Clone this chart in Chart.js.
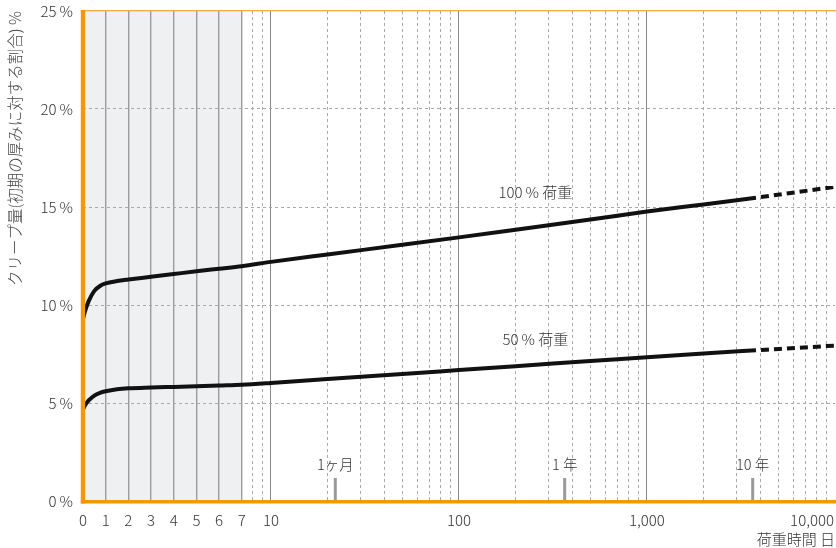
<!DOCTYPE html>
<html lang="ja">
<head>
<meta charset="utf-8">
<title>クリープ量</title>
<script src="https://cdn.jsdelivr.net/npm/chart.js@4.4.1/dist/chart.umd.min.js"></script>
<style>
  html, body { margin: 0; padding: 0; background: #fff; }
  #wrap { width: 836px; height: 548px; }
</style>
</head>
<body>
<div id="wrap"><canvas id="chart" width="836" height="548"></canvas></div>
<script>
// 荷重時間（日）と実測クリープ量（%）
const DAYS      = [0, 0.1, 0.25, 0.5, 0.75, 1, 1.5, 2, 3, 4, 5, 6, 7, 10, 20, 50, 100, 200, 500, 1000, 2000, 3800];
const CREEP_100 = [9.3, 9.72, 10.2, 10.72, 10.97, 11.1, 11.22, 11.3, 11.44, 11.58, 11.72, 11.85, 11.98, 12.2, 12.58, 13.07, 13.45, 13.84, 14.36, 14.77, 15.13, 15.47];
const CREEP_50  = [4.68, 4.9, 5.13, 5.38, 5.52, 5.6, 5.7, 5.75, 5.79, 5.82, 5.85, 5.89, 5.93, 6.02, 6.22, 6.48, 6.68, 6.88, 7.14, 7.34, 7.53, 7.69];

// 長期予測（破線部分）
const PROJ_DAYS = [3800, 10000];
const PROJ_100  = [15.47, 16.03];
const PROJ_50   = [7.69, 7.93];

// 横軸の目盛線と目盛ラベル
const X_GRID_DAYS = [0, 1, 2, 3, 4, 5, 6, 7, 8, 9, 10,
  20, 30, 40, 50, 60, 70, 80, 90, 100,
  200, 300, 400, 500, 600, 700, 800, 900, 1000,
  2000, 3000, 4000, 5000, 6000, 7000, 8000, 9000, 10000];
const X_TICK_DAYS   = [0, 1, 2, 3, 4, 5, 6, 7, 10, 100, 1000, 10000];
const X_TICK_LABELS = ['0', '1', '2', '3', '4', '5', '6', '7', '10', '100', '1,000', '10,000'];
const Y_TICKS       = [0, 5, 10, 15, 20, 25];
const Y_TICK_LABELS = ['0\u2009%', '5\u2009%', '10\u2009%', '15\u2009%', '20\u2009%', '25\u2009%'];

// 期間の目安
const PERIOD_DAYS   = [22, 365, 3650];
const PERIOD_LABELS = ['1ヶ月', '1 年', '10 年'];

const SERIES_LABELS = ['100\u2009% 荷重', '50\u2009% 荷重'];

const FONT = '"Noto Sans CJK JP", "Noto Sans", sans-serif';
const FONT_WEIGHT = 300;
const ORANGE = '#f39800';

// 0〜7日は等間隔、7日以降は対数で目盛る横軸
const LINEAR_DAYS = 7;
const UNITS_PER_DECADE = 8.29;
function dayToUnit(d) {
  return d <= LINEAR_DAYS ? d : LINEAR_DAYS + UNITS_PER_DECADE * Math.log10(d / LINEAR_DAYS);
}
function unitToDay(u) {
  return u <= LINEAR_DAYS ? u : LINEAR_DAYS * Math.pow(10, (u - LINEAR_DAYS) / UNITS_PER_DECADE);
}

class DayScale extends Chart.LinearScale {
  determineDataLimits() {
    this.min = this.options.min;
    this.max = this.options.max;
  }
  buildTicks() {
    return X_GRID_DAYS.map(v => ({ value: v }));
  }
  getPixelForValue(value) {
    return this.getPixelForDecimal(dayToUnit(value) / dayToUnit(this.max));
  }
  getValueForPixel(pixel) {
    return unitToDay(this.getDecimalForPixel(pixel) * dayToUnit(this.max));
  }
}
DayScale.id = 'days';
DayScale.defaults = {};
Chart.register(DayScale);

const toPoints = (xs, ys) => xs.map((x, i) => ({ x: x, y: ys[i] }));
const cssFont = size => FONT_WEIGHT + ' ' + size + 'px ' + FONT;

const decor = {
  id: 'decor',
  beforeDraw(chart) {
    const { ctx, chartArea: a, scales: { x } } = chart;
    ctx.save();
    ctx.fillStyle = '#fff';
    ctx.fillRect(0, 0, chart.width, chart.height);
    ctx.fillStyle = '#eff0f2';
    const x0 = x.getPixelForValue(0), x7 = x.getPixelForValue(LINEAR_DAYS);
    ctx.fillRect(x0, a.top, x7 - x0, a.bottom - a.top);
    ctx.restore();
  },
  afterDraw(chart) {
    const { ctx, chartArea: a, scales: { x, y } } = chart;
    ctx.save();

    // 期間の目安
    ctx.fillStyle = '#9a9a9a';
    PERIOD_DAYS.forEach(d => {
      const px = x.getPixelForValue(d);
      ctx.fillRect(px - 1.5, a.bottom - 23, 3, 23);
    });
    ctx.fillStyle = '#333';
    ctx.font = cssFont(14.5);
    ctx.textAlign = 'center';
    ctx.textBaseline = 'middle';
    PERIOD_DAYS.forEach((d, i) => {
      ctx.fillText(PERIOD_LABELS[i], x.getPixelForValue(d), a.bottom - 37);
    });

    // 系列ラベル
    ctx.font = cssFont(15);
    ctx.fillText(SERIES_LABELS[0], x.getPixelForValue(255), y.getPixelForValue(15.75));
    ctx.fillText(SERIES_LABELS[1], x.getPixelForValue(255), y.getPixelForValue(8.25));

    // 軸線
    ctx.fillStyle = '#f5ad3c';
    ctx.fillRect(a.left, a.top - 1, chart.width - a.left, 1.3);
    ctx.fillStyle = ORANGE;
    ctx.fillRect(a.left - 2.2, a.top - 1, 4.4, a.bottom - a.top + 3.5);
    ctx.fillRect(a.left - 2.2, a.bottom - 1, chart.width - a.left + 2.2, 3.5);

    // 横軸の目盛ラベル
    ctx.fillStyle = '#333';
    ctx.font = cssFont(15);
    ctx.textBaseline = 'middle';
    X_TICK_DAYS.forEach((d, i) => {
      const last = i === X_TICK_DAYS.length - 1;
      ctx.textAlign = last ? 'right' : 'center';
      const px = last ? chart.width - 2 : x.getPixelForValue(d);
      ctx.fillText(X_TICK_LABELS[i], px, a.bottom + 19);
    });
    ctx.restore();
  }
};

const lineStyle = {
  borderColor: '#111',
  borderWidth: 4,
  pointRadius: 0,
  fill: false,
  cubicInterpolationMode: 'monotone',
  borderCapStyle: 'butt'
};

new Chart(document.getElementById('chart'), {
  type: 'line',
  data: {
    datasets: [
      Object.assign({ label: SERIES_LABELS[0], data: toPoints(DAYS, CREEP_100) }, lineStyle),
      Object.assign({ label: SERIES_LABELS[1], data: toPoints(DAYS, CREEP_50) }, lineStyle),
      Object.assign({ label: SERIES_LABELS[0], data: toPoints(PROJ_DAYS, PROJ_100), borderDash: [8, 5], borderDashOffset: 8 }, lineStyle),
      Object.assign({ label: SERIES_LABELS[1], data: toPoints(PROJ_DAYS, PROJ_50), borderDash: [8, 5], borderDashOffset: 8 }, lineStyle)
    ]
  },
  options: {
    responsive: false,
    animation: false,
    devicePixelRatio: 1,
    layout: { padding: { top: 11, right: 1, left: 0, bottom: 0 } },
    plugins: { legend: { display: false }, tooltip: { enabled: false } },
    scales: {
      x: {
        type: 'days',
        position: 'bottom',
        min: 0,
        max: 10000,
        afterFit(s) { s.height = 47; s.paddingLeft = 0; s.paddingRight = 0; },
        ticks: { display: false, autoSkip: false },
        grid: {
          drawTicks: false,
          color(c) {
            const v = c.tick ? c.tick.value : 0;
            if (v === 0 || v === 10000) return 'rgba(0,0,0,0)';
            if (v <= LINEAR_DAYS) return '#9c9c9c';
            if (v === 10 || v === 100 || v === 1000) return '#8a8a8a';
            return '#a9a9a9';
          },
          lineWidth(c) {
            const v = c.tick ? c.tick.value : 0;
            return (v > 0 && v <= LINEAR_DAYS) ? 1.4 : 1;
          }
        },
        border: {
          display: false,
          dash(c) {
            const v = c.tick ? c.tick.value : 0;
            return (v <= LINEAR_DAYS || v === 10 || v === 100 || v === 1000) ? [] : [3, 3];
          }
        },
        title: {
          display: true,
          text: '荷重時間 日',
          align: 'end',
          color: '#333',
          font: { family: FONT, size: 15, weight: FONT_WEIGHT },
          padding: { top: 0, bottom: 0 }
        }
      },
      y: {
        type: 'linear',
        min: 0,
        max: 25,
        afterFit(s) { s.width = 83; s.paddingTop = 0; s.paddingBottom = 0; },
        afterBuildTicks(s) { s.ticks = Y_TICKS.map(v => ({ value: v })); },
        ticks: {
          padding: 10,
          color: '#333',
          font: { family: FONT, size: 15, weight: FONT_WEIGHT },
          callback(v) { return Y_TICK_LABELS[Y_TICKS.indexOf(v)]; }
        },
        grid: {
          drawTicks: false,
          color(c) {
            const v = c.tick ? c.tick.value : 0;
            return (v === 0 || v === 25) ? 'rgba(0,0,0,0)' : '#a9a9a9';
          },
          lineWidth: 1
        },
        border: { display: false, dash: [3, 3] },
        title: {
          display: true,
          text: 'クリープ量(初期の厚みに対する割合) %',
          align: 'end',
          color: '#444',
          font: { family: FONT, size: 15.5, weight: FONT_WEIGHT },
          padding: { top: 6, bottom: 0 }
        }
      }
    }
  },
  plugins: [decor]
});
</script>
</body>
</html>
